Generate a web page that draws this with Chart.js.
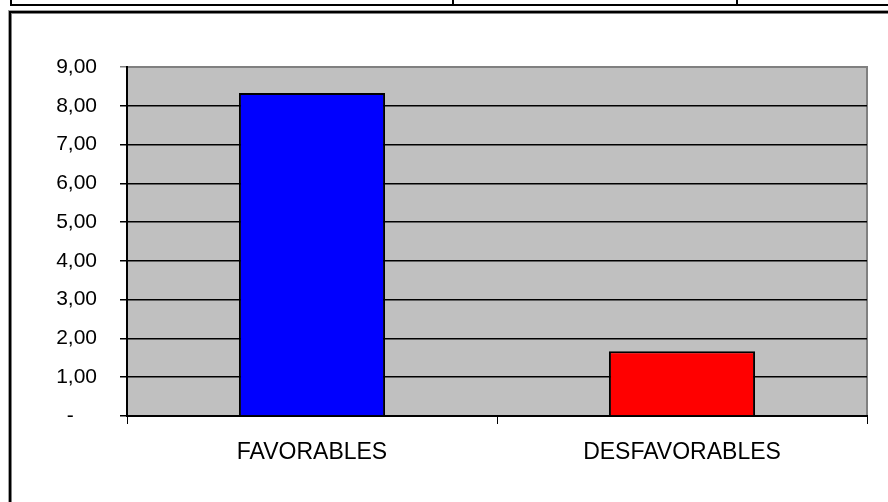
<!DOCTYPE html>
<html lang="es">
<head>
    <meta charset="UTF-8">
    <title>Favorables / Desfavorables</title>
    <script src="https://cdn.jsdelivr.net/npm/chart.js"></script>
    <style>
        body {
            margin: 0;
            background-color: white;
            width: 888px;
            height: 502px;
            overflow: hidden;
            position: relative;
            font-family: Arial, "Liberation Sans", sans-serif;
        }
        /* bordes de las celdas de la hoja */
        .celda-h {
            position: absolute;
            left: 10px;
            top: 4px;
            width: 878px;
            height: 2px;
            background: #000;
        }
        .celda-v {
            position: absolute;
            top: 0;
            height: 6px;
            background: #000;
        }
        /* marco del grafico */
        .marco {
            position: absolute;
            left: 9px;
            top: 11px;
            width: 900px;
            height: 520px;
            border: 2px solid #000;
            box-shadow: inset 1px 1px 0 #808080, -1px -1px 0 #a0a0a0;
        }
        #grafico {
            position: absolute;
            left: 0;
            top: 0;
        }
    </style>
</head>
<body>
    <div class="celda-h"></div>
    <div class="celda-v" style="left:10px;width:2px"></div>
    <div class="celda-v" style="left:452px;width:2px"></div>
    <div class="celda-v" style="left:736px;width:2px"></div>
    <div class="marco"></div>
    <canvas id="grafico" width="888" height="502"></canvas>

    <script>
        const categorias = ['FAVORABLES', 'DESFAVORABLES'];
        const valores = [8.33, 1.67];
        const coloresBarras = ['#0000ff', '#ff0000'];
        const ejeMin = 0;
        const ejeMax = 9;
        const ejePaso = 1;

        // fondo gris del area de trazado con borde gris oscuro
        const fondoArea = {
            id: 'fondoArea',
            beforeDraw(chart) {
                const a = chart.chartArea;
                const ctx = chart.ctx;
                ctx.save();
                ctx.fillStyle = '#c0c0c0';
                ctx.fillRect(a.left, a.top, a.right - a.left, a.bottom - a.top);
                ctx.strokeStyle = '#808080';
                ctx.lineWidth = 2;
                ctx.beginPath();
                ctx.moveTo(a.left, a.top);
                ctx.lineTo(a.right, a.top);
                ctx.lineTo(a.right, a.bottom);
                ctx.stroke();
                ctx.restore();
            }
        };

        function formatoNumero(v) {
            if (v === 0) return '-    ';
            return v.toFixed(2).replace('.', ',');
        }

        const ctx = document.getElementById('grafico').getContext('2d');
        new Chart(ctx, {
            type: 'bar',
            data: {
                labels: categorias,
                datasets: [{
                    data: valores,
                    backgroundColor: coloresBarras,
                    borderColor: '#000',
                    borderWidth: 2,
                    categoryPercentage: 1,
                    barPercentage: 0.395
                }]
            },
            options: {
                responsive: false,
                animation: false,
                layout: {
                    padding: { left: 0, top: 67, right: 21, bottom: 0 }
                },
                plugins: {
                    legend: { display: false },
                    tooltip: { enabled: false }
                },
                scales: {
                    x: {
                        afterFit(scale) { scale.height = 86; },
                        grid: {
                            offset: true,
                            drawOnChartArea: false,
                            drawTicks: true,
                            tickLength: 8,
                            color: '#000',
                            lineWidth: 1
                        },
                        border: { color: '#000', width: 2 },
                        ticks: {
                            color: '#000',
                            padding: 15,
                            font: { family: 'Arial, "Liberation Sans"', size: 23 }
                        }
                    },
                    y: {
                        min: ejeMin,
                        max: ejeMax,
                        afterFit(scale) { scale.width = 127; },
                        grid: {
                            drawTicks: true,
                            tickLength: 7,
                            color: ctx => (ctx.tick && ctx.tick.value === ejeMax) ? '#808080' : '#000',
                            lineWidth: 1.5
                        },
                        border: { color: '#000', width: 2 },
                        ticks: {
                            stepSize: ejePaso,
                            color: '#000',
                            padding: 23,
                            font: { family: 'Arial, "Liberation Sans"', size: 21 },
                            callback: v => formatoNumero(v)
                        }
                    }
                }
            },
            plugins: [fondoArea]
        });
    </script>
</body>
</html>
